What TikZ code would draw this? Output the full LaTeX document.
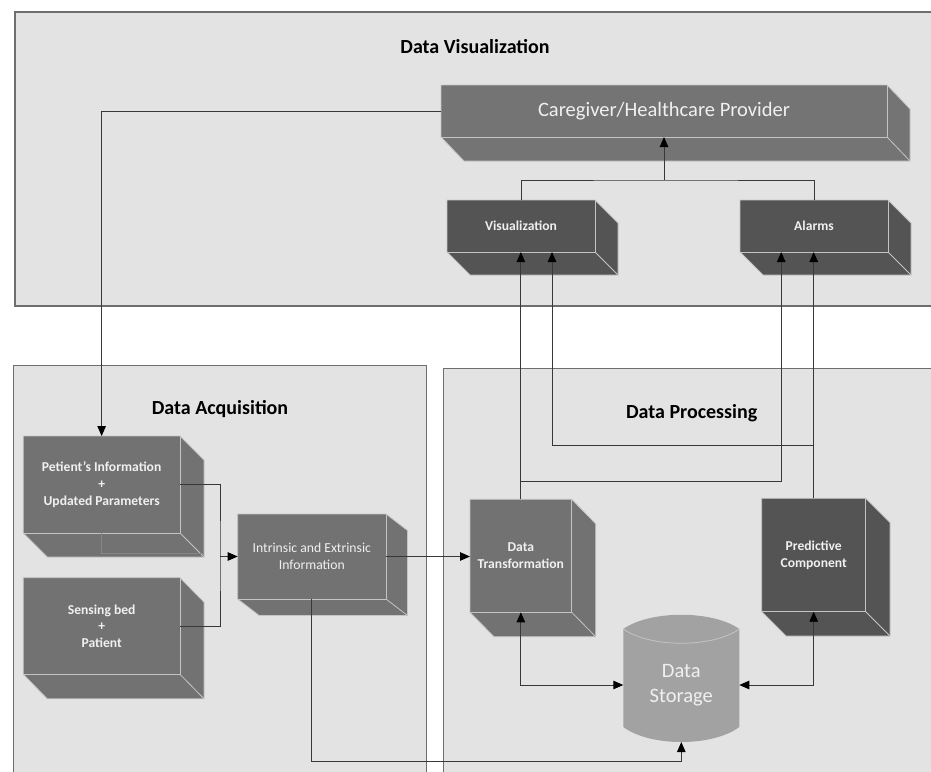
\documentclass[tikz,border=0pt]{standalone}
\usepackage{fontspec}
\setmainfont{Carlito}
\usetikzlibrary{arrows.meta,calc}
\definecolor{panelfill}{HTML}{E3E3E3}
\definecolor{paneldraw}{HTML}{6E6E6E}
\definecolor{boxmid}{HTML}{727272}
\definecolor{boxdark}{HTML}{545454}
\definecolor{boxcare}{HTML}{747474}
\definecolor{storefill}{HTML}{A2A2A2}
\definecolor{edgecol}{HTML}{C4C4C4}
\definecolor{conncol}{HTML}{383838}
\definecolor{txtcol}{HTML}{F0F0F0}
\tikzset{
  panel/.style={fill=panelfill, draw=paneldraw, line width=1.3pt},
  paneltitle/.style={font=\bfseries\fontsize{20}{24}\selectfont, text=black},
  boxedge/.style={draw=edgecol, line width=0.8pt, line join=miter},
  boxtext/.style={inner sep=0pt, outer sep=0pt, align=center, font=\bfseries\fontsize{13.6}{16.7}\selectfont},
  lighttext/.style={font=\fontsize{13.7}{16.7}\selectfont},
  caretext/.style={font=\fontsize{20.5}{24}\selectfont},
  conn/.style={draw=conncol, line width=0.9pt},
  tip/.tip={Triangle[length=10pt,width=8.5pt,color=black]},
  arr/.style={conn, -tip},
  arrboth/.style={conn, tip-tip},
}
% #1 name, #2 x1, #3 y1, #4 x2, #5 y2, #6 dx, #7 dy, #8 fill colour and text style, #9 text
\newcommand\solidbox[9]{%
  \fill[#8] (#2,#3) -- (#4,#3) -- (#4+#6,#3+#7) -- (#4+#6,#5+#7) -- (#2+#6,#5+#7) -- (#2,#5) -- cycle;
  \draw[boxedge] (#2,#3) -- (#4,#3) -- (#4+#6,#3+#7) -- (#4+#6,#5+#7) -- (#2+#6,#5+#7) -- (#2,#5) -- cycle;
  \draw[boxedge] (#2,#5) -- (#4,#5) -- (#4,#3);
  \draw[boxedge] (#4,#5) -- (#4+#6,#5+#7);
  \node[boxtext, #8, text=txtcol, minimum width={(#4-#2)*1pt}, minimum height={(#5-#3)*1pt}] (#1) at ({(#2+#4)/2},{(#3+#5)/2}) {#9};
}
\begin{document}
\begin{tikzpicture}[x=1pt,y=-1pt]
\useasboundingbox (0,0) rectangle (931,771);
\fill[white] (0,0) rectangle (931,771);
\clip (0,0) rectangle (931,771);

% panels
\draw[panel] (15,12) rectangle (945,306);
\draw[panel] (13.3,365.5) rectangle (426.7,790);
\draw[panel] (443.7,368.5) rectangle (945,790);
\node[paneltitle] (tvis) at (475,47) {Data Visualization};
\node[paneltitle] (tacq) at (220,409) {Data Acquisition};
\node[paneltitle] (tproc) at (691.7,412.7) {Data Processing};

% boxes
\solidbox{care}{441}{85}{887}{137}{23}{24}{boxcare, caretext}{Caregiver/Healthcare Provider}
\solidbox{vis}{447}{200}{595}{252}{23}{23}{boxdark}{Visualization}
\solidbox{alarms}{740}{200}{888}{252}{23}{23}{boxdark}{Alarms}
\solidbox{pet}{23.3}{436}{180}{533}{24}{24}{boxmid}{Petient’s Information\\+\\Updated Parameters}
\draw[draw=boxmid!85!white, line width=0.6pt] (pet.south) -- ++(0,20) -- ++(101,0);
\solidbox{sens}{23.3}{577.7}{180}{674.3}{24}{24.5}{boxmid}{Sensing bed\\+\\Patient}
\solidbox{intr}{237.7}{514}{386}{599}{21.5}{16.5}{boxmid, lighttext}{Intrinsic and Extrinsic\\Information}
\solidbox{dt}{470}{499.3}{571.7}{612.3}{24}{24.4}{boxmid}{Data\\Transformation}
\solidbox{pred}{761.7}{498.3}{865.7}{611.7}{24.3}{24.3}{boxdark}{Predictive\\Component}

% data storage cylinder
\fill[storefill] (623.3,629) .. controls (650,610) and (712.6,610) .. (739.3,629)
  -- (739.3,727) .. controls (712.6,747) and (650,747) .. (623.3,727) -- cycle;
\draw[draw=edgecol, line width=0.8pt] (623.3,629) .. controls (650,648) and (712.6,648) .. (739.3,629);
\node[inner sep=0pt, outer sep=0pt, minimum width=116pt, minimum height=114pt, align=center,
  text=txtcol, font=\fontsize{20.5}{25}\selectfont] (store) at (681.3,685) {Data\\Storage};

% connectors: visualization layer
\coordinate (topj) at (664,180);
\draw[conn] (vis.north) |- (topj) -| (alarms.north);
\draw[arr] (topj) -- (care.south);
\draw[arr] (care.west) -| (pet.north);

% acquisition
\coordinate (acqj) at (220,556.5);
\draw[conn] (pet.east) -| (acqj) |- (sens.east);
\draw[arr] (acqj) -- (intr.west);
\draw[arr] (intr.east) -- (intr.east -| dt.west);
\draw[arr] (intr.south) |- ($(store.south)+(0,19.7)$) -- (store.south);

% processing
\coordinate (visB) at ($(vis.south)+(31,0)$);
\coordinate (alaA) at ($(alarms.south)+(-32.8,0)$);
\draw[arr] (dt.north) -- (dt.north |- vis.south);
\draw[arr] ($(dt.north)+(0,-17.5)$) -| (alaA);
\draw[arr] (pred.north) -- (pred.north |- alarms.south);
\draw[arr] (pred.north |- 0,445) -| (visB);
\draw[arrboth] (dt.south) |- (store.west);
\draw[arrboth] (pred.south) |- (store.east);
\end{tikzpicture}
\end{document}
